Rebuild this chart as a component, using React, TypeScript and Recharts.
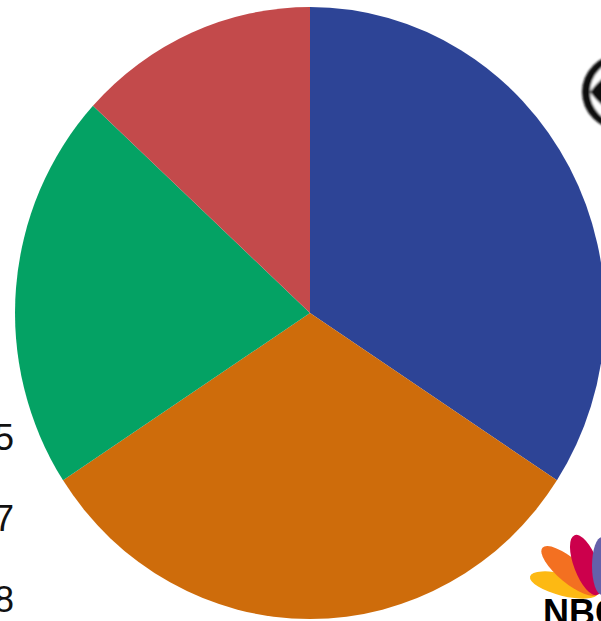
import { PieChart, Pie, Cell } from "recharts";

// network share (clockwise from 12 o'clock)
const networks = ["CBS-blue", "orange", "green", "red"];
const shares = [13, 12, 8, 5];
const sliceColors = ["#2D4496", "#CE6C0B", "#04A264", "#C34A4B"];
const sideLabels = ["5", "7", "8"];

const data = networks.map((name, i) => ({ name, value: shares[i] }));

function Logos() {
  return (
    <svg
      width={601}
      height={621}
      style={{ position: "absolute", left: 0, top: 0, pointerEvents: "none" }}
    >
      <defs>
        <filter id="blur">
          <feGaussianBlur stdDeviation={0.8} />
        </filter>
      </defs>
      {/* CBS eye, cut by the right edge */}
      <g filter="url(#blur)">
        <ellipse cx={621} cy={92} rx={39} ry={38} fill="#111" />
        <ellipse cx={621} cy={92} rx={31} ry={31} fill="#fff" />
        <path d="M590 92 Q621 50 652 92 Q621 134 590 92 Z" fill="#111" />
        <circle cx={621} cy={92} r={17} fill="#fff" />
        <circle cx={621} cy={92} r={13} fill="#111" />
      </g>
      {/* NBC peacock feathers */}
      <g>
        <ellipse cx={564} cy={585} rx={35} ry={11} fill="#FDB913" transform="rotate(14 564 585)" />
        <ellipse cx={570} cy={571} rx={36} ry={12} fill="#F37021" transform="rotate(40 570 571)" />
        <ellipse cx={586} cy={565} rx={32} ry={12} fill="#CC004C" transform="rotate(69 586 565)" />
        <ellipse cx={602} cy={566} rx={29} ry={10} fill="#6460AA" transform="rotate(90 602 566)" />
      </g>
      <text
        x={543}
        y={625}
        fontFamily="Liberation Sans, Arial, sans-serif"
        fontWeight="bold"
        fontSize={36}
        fill="#000"
      >
        NBC
      </text>
    </svg>
  );
}

export default function App() {
  return (
    <div
      style={{
        position: "absolute",
        left: 0,
        top: 0,
        width: 601,
        height: 621,
        overflow: "hidden",
        background: "#fff",
      }}
    >
      <div
        style={{
          position: "absolute",
          left: 0,
          top: 0,
          transform: "scaleX(0.964)",
          transformOrigin: "310px 313px",
        }}
      >
        <PieChart width={660} height={621} margin={{ top: 0, right: 0, bottom: 0, left: 0 }}>
          <Pie
            data={data}
            dataKey="value"
            nameKey="name"
            cx={310}
            cy={313}
            outerRadius={306}
            startAngle={90}
            endAngle={-270}
            stroke="none"
            isAnimationActive={false}
          >
            {data.map((_, i) => (
              <Cell key={`slice-${i}`} fill={sliceColors[i]} />
            ))}
          </Pie>
        </PieChart>
      </div>
      {sideLabels.map((t, i) => (
        <div
          key={t}
          style={{
            position: "absolute",
            left: -6,
            top: 418 + i * 81,
            fontFamily: "Liberation Sans, Arial, sans-serif",
            fontSize: 36,
            lineHeight: "40px",
            color: "#111",
          }}
        >
          {t}
        </div>
      ))}
      <Logos />
    </div>
  );
}
